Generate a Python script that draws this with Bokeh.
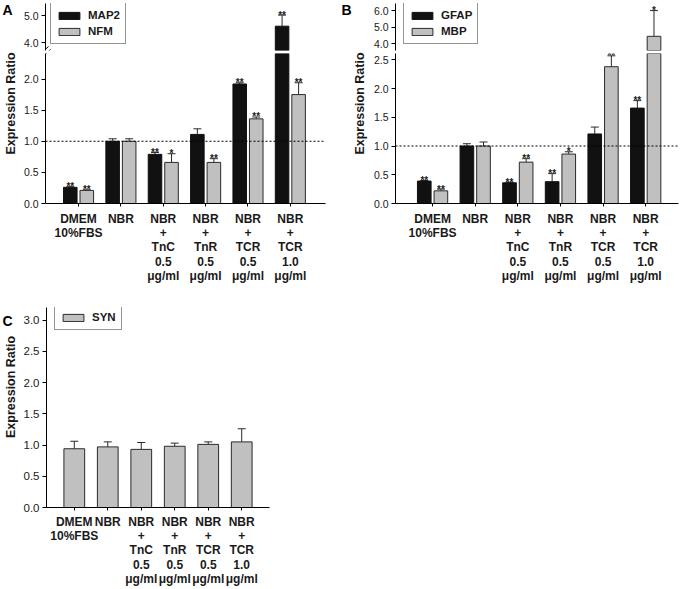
import math
from bokeh.plotting import figure
from bokeh.layouts import row, column
from bokeh.models import (ColumnDataSource, Range1d, FixedTicker, Span, Whisker, TeeHead,
                          Legend, LegendItem, Arrow, NumeralTickFormatter, CDSView, BooleanFilter)
from bokeh.transform import dodge
from bokeh.core.properties import value
from bokeh.embed import file_html
from bokeh.resources import INLINE

# ---------------- data ----------------
categories = ["DMEM\n10%FBS", "NBR", "NBR\n+\nTnC\n0.5\nμg/ml", "NBR\n+\nTnR\n0.5\nμg/ml",
              "NBR\n+\nTCR\n0.5\nμg/ml", "NBR\n+\nTCR\n1.0\nμg/ml"]

# Panel A
map2 = [0.26, 1.00, 0.79, 1.11, 1.92, 4.62]
map2_err = [0.01, 0.04, 0.03, 0.09, 0.02, 0.41]
map2_sig = ["**", "", "**", "", "**", "**"]
nfm = [0.21, 1.00, 0.66, 0.66, 1.36, 1.75]
nfm_err = [0.01, 0.04, 0.14, 0.06, 0.03, 0.19]
nfm_sig = ["**", "", "*", "**", "**", "**"]

# Panel B
gfap = [0.39, 1.00, 0.36, 0.38, 1.21, 1.66]
gfap_err = [0.01, 0.04, 0.01, 0.14, 0.12, 0.13]
gfap_sig = ["**", "", "**", "**", "", "**"]
mbp = [0.22, 1.00, 0.72, 0.86, 2.38, 4.44]
mbp_err = [0.03, 0.07, 0.06, 0.04, 0.19, 1.56]
mbp_sig = ["**", "", "**", "*", "**", "*"]

# Panel C
syn = [0.94, 0.97, 0.93, 0.98, 1.01, 1.05]
syn_err = [0.12, 0.08, 0.11, 0.05, 0.04, 0.21]

a_low_ticks = [0.0, 0.5, 1.0, 1.5, 2.0]
a_up_ticks = [4.0, 5.0]
b_low_ticks = [0.0, 0.5, 1.0, 1.5, 2.0, 2.5]
b_up_ticks = [4.0, 5.0, 6.0]
c_ticks = [0.0, 0.5, 1.0, 1.5, 2.0, 2.5, 3.0]

# ---------------- style ----------------
FONT = "Liberation Sans"
BLACK = "#111111"
GRAY = "#c0c0c0"
EDGE = "#2a2a2a"
TXT = "#1a1a1a"
OFF = 0.195
BW = 0.32

idx = list(range(len(categories)))
labels = {i: c for i, c in enumerate(categories)}


def base_fig(w, h, xr, yr, mb, xaxis=True):
    p = figure(width=w, height=h, x_range=xr, y_range=yr, output_backend="svg",
               toolbar_location=None, min_border_top=mb[0], min_border_right=mb[1],
               min_border_bottom=mb[2], min_border_left=mb[3],
               x_axis_location="below" if xaxis else None)
    p.outline_line_color = None
    p.grid.visible = False
    p.background_fill_color = "white"
    p.border_fill_color = "white"
    return p


def style_y(p, ticks, size):
    ax = p.yaxis[0]
    ax.ticker = FixedTicker(ticks=ticks)
    ax.formatter = NumeralTickFormatter(format="0.0")
    ax.axis_line_color = "black"
    ax.major_tick_line_color = "black"
    ax.major_tick_out = 4
    ax.major_tick_in = 0
    ax.minor_tick_line_color = None
    ax.major_label_standoff = 3
    ax.major_label_text_font = FONT
    ax.major_label_text_font_size = size
    ax.major_label_text_color = TXT


def style_x(p, standoff=5):
    ax = p.xaxis[0]
    ax.ticker = FixedTicker(ticks=idx)
    ax.major_label_overrides = labels
    ax.axis_line_color = "black"
    ax.major_tick_line_color = "black"
    ax.major_tick_out = 3
    ax.major_tick_in = 0
    ax.minor_tick_line_color = None
    ax.major_label_standoff = standoff
    ax.major_label_text_font = FONT
    ax.major_label_text_font_style = "bold"
    ax.major_label_text_font_size = "12px"
    ax.major_label_text_color = TXT
    ax.major_label_text_line_height = 1.03


def bars(p, vals, errs, sigs, color, off, width, ymin=None, ymax=None):
    tops = [v + e for v, e in zip(vals, errs)]
    src = ColumnDataSource(dict(x=idx, v=vals, top=tops,
                                sig=sigs if sigs else ["" for _ in idx]))
    shown = [ymin is None or t > ymin for t in tops]
    star_shown = [s and (ymax is None or t < ymax) for s, t in zip(shown, tops)]
    x = dodge("x", off, range=p.x_range)
    edge = EDGE if color != BLACK else BLACK
    p.vbar(x=x, top="v", width=width, bottom=0, source=src,
           view=CDSView(filter=BooleanFilter(booleans=shown)),
           fill_color=color, line_color=edge, line_width=1)
    # full-data twin, not drawn, that only gives the legend its swatch
    swatch = p.vbar(x=x, top="v", width=width, bottom=0, source=src,
                    fill_color=color, line_color=edge, line_width=1, visible=False)
    wsrc = ColumnDataSource(dict(
        x=[i for i, s in zip(idx, shown) if s],
        v=[a for a, s in zip(vals, shown) if s],
        top=[t for t, s in zip(tops, shown) if s]))
    p.add_layout(Whisker(base=x, upper="top", lower="v", source=wsrc,
                         dimension="height", line_color=EDGE, line_width=1,
                         lower_head=None, upper_head=TeeHead(size=8, line_color=EDGE, line_width=1)))
    if sigs:
        p.text(x=x, y="top", text="sig", source=src,
               view=CDSView(filter=BooleanFilter(booleans=star_shown)),
               text_align="center", text_baseline="alphabetic", y_offset=0, text_font=value(FONT),
               text_font_style="bold", text_font_size="10px", text_color=TXT)
    return swatch


def break_marks(p, ox, oy):
    # two short slashes crossing the axis break, canvas pixel units of the figure
    for dx, dy in [(0, 0), (2, 3)]:
        p.add_layout(Arrow(x_start=38 + dx - ox, y_start=55 + dy - oy,
                           x_end=48 + dx - ox, y_end=46 + dy - oy,
                           start_units="canvas", end_units="canvas", end=None,
                           line_color="black", line_width=1))


def legend(p, items, loc):
    lg = Legend(items=items, location=loc, orientation="vertical",
                label_text_font=FONT, label_text_font_style="bold", label_text_font_size="11.5px",
                label_text_color=TXT, border_line_color=EDGE, border_line_width=1,
                padding=5, spacing=2, glyph_width=26, glyph_height=9, label_height=14,
                label_standoff=6, margin=0, background_fill_color="white")
    p.add_layout(lg)


def label_fig(w, h, letter, lx, ly, ex, ey):
    p = figure(width=w, height=h, x_range=Range1d(0, w), y_range=Range1d(0, h),
               output_backend="svg", toolbar_location=None, min_border=0,
               x_axis_location=None, y_axis_location=None)
    p.outline_line_color = None
    p.grid.visible = False
    p.text(x=[lx], y=[h - ly], text=[letter], text_align="center", text_baseline="middle",
           text_font=value(FONT), text_font_style="bold", text_font_size="14px", text_color="black")
    p.text(x=[ex], y=[h - ey], text=["Expression Ratio"], angle=math.pi / 2,
           text_align="center", text_baseline="middle", text_font=value(FONT),
           text_font_style="bold", text_font_size="12.5px", text_color=TXT)
    return p


def two_series_panel(s1, e1, g1, s2, e2, g2, names, xr_span, up_range, low_range,
                     up_ticks, low_ticks, width, right_border, left_page, leg_loc):
    up = base_fig(width, 51, Range1d(*xr_span), Range1d(*up_range), (3, right_border, 1, 25), xaxis=False)
    lo = base_fig(width, 241, Range1d(*xr_span), Range1d(*low_range), (2, right_border, 89, 25))
    ra = bars(up, s1, e1, g1, BLACK, -OFF, BW, ymin=up_range[0])
    rb = bars(up, s2, e2, g2, GRAY, OFF, BW, ymin=up_range[0])
    bars(lo, s1, e1, g1, BLACK, -OFF, BW, ymax=low_range[1])
    bars(lo, s2, e2, g2, GRAY, OFF, BW, ymax=low_range[1])
    style_y(up, up_ticks, "10.5px")
    style_y(lo, low_ticks, "10.5px")
    style_x(lo)
    lo.add_layout(Span(location=1.0, dimension="width", line_color="black",
                       line_width=1, line_dash="2 2"))
    legend(up, [LegendItem(label=names[0], renderers=[ra]),
                LegendItem(label=names[1], renderers=[rb])], leg_loc)
    break_marks(up, left_page, 0)
    break_marks(lo, left_page, 51)
    return column(up, lo)


panelA = two_series_panel(map2, map2_err, map2_sig, nfm, nfm_err, nfm_sig, ["MAP2", "NFM"],
                          (-0.78, 5.83), (3.72, 5.46), (0, 2.41), a_up_ticks, a_low_ticks,
                          320, 15, 20, (5, 6))
panelB = two_series_panel(gfap, gfap_err, gfap_sig, mbp, mbp_err, mbp_sig, ["GFAP", "MBP"],
                          (-0.87, 5.77), (3.58, 6.43), (0, 2.61), b_up_ticks, b_low_ticks,
                          310, 2, 370, (8, 6))

labA = label_fig(20, 292, "A", 7, 9, 10, 103)
labB = label_fig(30, 292, "B", 6, 9, 19, 103)

# Panel C
pc = base_fig(320, 297, Range1d(-0.83, 5.83), Range1d(0, 3.2), (15, 71, 80, 24))
rc = bars(pc, syn, syn_err, None, GRAY, 0, 0.62)
style_y(pc, c_ticks, "11.5px")
style_x(pc, standoff=4)
legend(pc, [LegendItem(label="SYN", renderers=[rc])], (8, 177))
labC = label_fig(20, 297, "C", 7, 20, 10, 118)

layout = column(row(labA, panelA, labB, panelB), row(labC, pc))

open("out.html", "w").write(file_html(layout, INLINE))
